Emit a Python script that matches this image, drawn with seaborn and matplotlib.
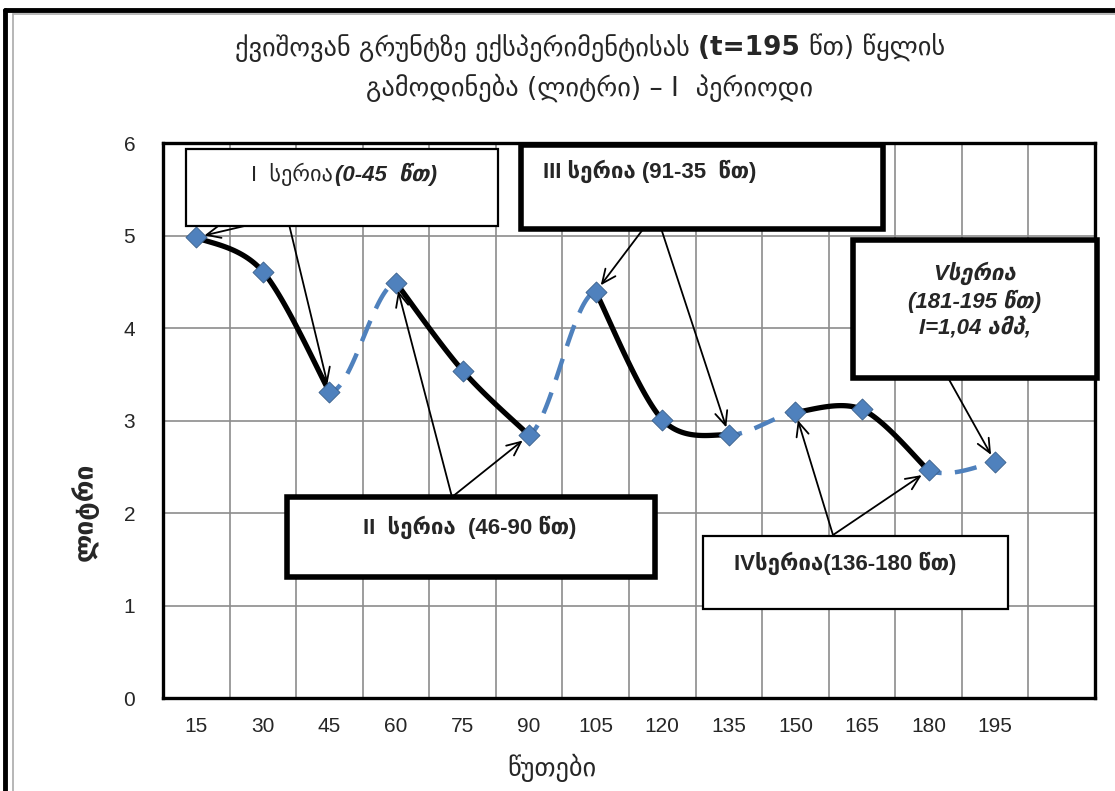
import numpy as np
import pandas as pd
import matplotlib
matplotlib.use("Agg")
import matplotlib.pyplot as plt
from matplotlib.patches import Rectangle
from matplotlib.lines import Line2D
import seaborn as sns

# ---------------- data ----------------
minutes = [15, 30, 45, 60, 75, 90, 105, 120, 135, 150, 165, 180, 195]
liters = [4.98, 4.61, 3.31, 4.49, 3.54, 2.84, 4.39, 3.01, 2.84, 3.09, 3.12, 2.46, 2.55]
tick_labels = ["15", "30", "45", "60", "75", "90", "105", "120", "135", "150", "165", "180", "195", ""]
# series groups (index ranges, inclusive) drawn as solid black curves
groups = [(0, 2), (3, 5), (6, 8), (9, 11)]

title_l1a = "ქვიშოვან გრუნტზე ექსპერიმენტისას "
title_l1b = "(t=195 "
title_l1c = "წთ) წყლის"
title_l2 = "გამოდინება (ლიტრი) – I  პერიოდი"
xlabel = "წუთები"
ylabel = "ლიტრი"
box_I = ("I  სერია", "(0-45  წთ)")
box_II = "II  სერია  (46-90 წთ)"
box_III = "III სერია (91-35  წთ)"
box_IV = "IVსერია(136-180 წთ)"
box_V = "Vსერია\n(181-195 წთ)\nI=1,04 ამპ,"

BLUE = "#4F81BD"
W, H = 1115, 791

sns.set_style("white")
plt.rcParams["font.family"] = ["Liberation Sans", "DejaVu Sans"]

fig = plt.figure(figsize=(W / 100, H / 100), dpi=100)
ax = fig.add_axes([163 / W, 1 - 698 / H, (1095 - 163) / W, (698 - 143) / H])


def bez_segment(pts, i, n=40):
    """Excel-like smoothed (Catmull-Rom/Bezier) segment i->i+1 of pts."""
    p = np.asarray(pts, float)
    m = len(p)
    p0 = p[max(i - 1, 0)]
    p1 = p[i]
    p2 = p[i + 1]
    p3 = p[min(i + 2, m - 1)]
    c1 = p1 + (p2 - p0) / 6.0
    c2 = p2 - (p3 - p1) / 6.0
    t = np.linspace(0, 1, n)[:, None]
    return ((1 - t) ** 3) * p1 + 3 * ((1 - t) ** 2) * t * c1 + 3 * (1 - t) * t ** 2 * c2 + t ** 3 * p2


xs = np.arange(len(minutes))
pts_all = np.column_stack([xs, liters])

# blue dashed connectors between series
for k in range(len(groups)):
    i = groups[k][1]
    if i + 1 < len(liters):
        seg = bez_segment(pts_all, i)
        df = pd.DataFrame({"x": seg[:, 0], "y": seg[:, 1]})
        sns.lineplot(data=df, x="x", y="y", ax=ax, sort=False, estimator=None,
                     color=BLUE, lw=3.2, linestyle=(2, (5, 3)), zorder=3)

# black solid smoothed series
for a, b in groups:
    gp = pts_all[a:b + 1]
    curve = np.vstack([bez_segment(gp, j) for j in range(len(gp) - 1)])
    df = pd.DataFrame({"x": curve[:, 0], "y": curve[:, 1]})
    sns.lineplot(data=df, x="x", y="y", ax=ax, sort=False, estimator=None,
                 color="black", lw=3.8, zorder=4)

# markers
sns.scatterplot(x=xs, y=liters, ax=ax, marker="D", s=115, color=BLUE,
                edgecolor="#3a5f8a", linewidth=0.6, zorder=5)

# axes
ax.set_xlim(-0.5, len(tick_labels) - 0.5)
ax.set_ylim(0, 6)
ax.set_xticks(np.arange(len(tick_labels)))
ax.set_xticklabels(tick_labels)
ax.set_xticks(np.arange(len(tick_labels) + 1) - 0.5, minor=True)
ax.set_yticks(range(0, 7))
ax.tick_params(axis="x", which="major", length=0, pad=14, labelsize=15)
ax.tick_params(axis="x", which="minor", length=6, color="#888888", width=1.2, direction="out")
ax.tick_params(axis="y", length=6, color="#888888", width=1.2, direction="out", pad=14, labelsize=15)
ax.grid(False)
ax.xaxis.grid(True, which="minor", color="#8c8c8c", lw=1.2)
ax.yaxis.grid(True, which="major", color="#8c8c8c", lw=1.2)
ax.set_axisbelow(True)
for sp in ax.spines.values():
    sp.set_visible(True)
    sp.set_color("black")
    sp.set_linewidth(2.4)
ax.set_xlabel("")
ax.set_ylabel("")
fig.text(552 / W, 1 - 768 / H, xlabel, ha="center", va="center", fontsize=19,
         family=["DejaVu Sans"])
fig.text(85 / W, 1 - 512 / H, ylabel, ha="center", va="center", fontsize=19,
         fontweight="bold", rotation=90, family=["DejaVu Sans"])

# title (line 1 in three pieces so that "(t=195" is bold)
t1 = fig.text(0, 0, title_l1a, fontsize=19, family=["DejaVu Sans"])
t2 = fig.text(0, 0, title_l1b, fontsize=19, fontweight="bold", family=["DejaVu Sans"])
t3 = fig.text(0, 0, title_l1c, fontsize=19, family=["DejaVu Sans"])
fig.canvas.draw()
r = fig.canvas.get_renderer()
w1 = t1.get_window_extent(r).width
w2 = t2.get_window_extent(r).width
w3 = t3.get_window_extent(r).width
x0 = 590 - (w1 + w2 + w3) / 2
ty = 1 - 48 / H
for t, xx in ((t1, x0), (t2, x0 + w1), (t3, x0 + w1 + w2)):
    t.set_position((xx / W, ty))
    t.set_va("center")
fig.text(590 / W, 1 - 88 / H, title_l2, ha="center", va="center", fontsize=19,
         family=["DejaVu Sans"])

# outer chart frame
fig.add_artist(Line2D([5 / W, 5 / W], [0, 1 - 10 / H], transform=fig.transFigure, color="black", lw=3.5))
fig.add_artist(Line2D([5 / W, 1], [1 - 10 / H, 1 - 10 / H], transform=fig.transFigure, color="black", lw=3.5))
fig.add_artist(Line2D([13 / W, 13 / W], [0, 1 - 14 / H], transform=fig.transFigure, color="#aaaaaa", lw=1.2))
fig.add_artist(Line2D([13 / W, 1], [1 - 14 / H, 1 - 14 / H], transform=fig.transFigure, color="#aaaaaa", lw=1.2))


def fpx(x, y):
    return (x / W, 1 - y / H)


def box(x0, y0, x1, y1, lw):
    rr = Rectangle(fpx(x0, y1), (x1 - x0) / W, (y1 - y0) / H, transform=fig.transFigure,
                   facecolor="white", edgecolor="black", lw=lw, zorder=6)
    fig.add_artist(rr)


def arrow(src, idx):
    ax.annotate("", xy=(xs[idx], liters[idx]), xycoords="data",
                xytext=fpx(*src), textcoords="figure fraction",
                arrowprops=dict(arrowstyle="->,head_length=1.0,head_width=0.45", color="black",
                                lw=1.3, shrinkA=0, shrinkB=6), zorder=7, annotation_clip=False)


FS = 16
# Box I
box(186, 149, 498, 226, 1.6)
fig.text(*fpx(333, 174), box_I[0], ha="right", va="center", fontsize=FS, zorder=8)
fig.text(*fpx(335, 174), box_I[1], ha="left", va="center", fontsize=FS,
         fontweight="bold", style="italic", zorder=8)
arrow((287, 216), 0)
arrow((287, 216), 2)

# Box III
box(521, 145, 883, 229, 4)
fig.text(*fpx(543, 171), box_III, ha="left", va="center", fontsize=FS,
         fontweight="bold", zorder=8)
arrow((653, 216), 6)
arrow((657, 216), 8)

# Box V
box(853, 240, 1097, 378, 4)
fig.text(*fpx(975, 300), box_V, ha="center", va="center", fontsize=FS,
         fontweight="bold", style="italic", linespacing=1.25, zorder=8)
arrow((942, 367), 12)

# Box II
box(287, 497, 655, 577, 4)
fig.text(*fpx(470, 527), box_II, ha="center", va="center", fontsize=FS,
         fontweight="bold", zorder=8)
arrow((452, 497), 3)
arrow((452, 497), 5)

# Box IV
box(703, 536, 1008, 609, 1.6)
fig.text(*fpx(845, 563), box_IV, ha="center", va="center", fontsize=FS,
         fontweight="bold", zorder=8)
arrow((833, 535), 9)
arrow((833, 535), 11)

fig.savefig("out.png", dpi=100)
